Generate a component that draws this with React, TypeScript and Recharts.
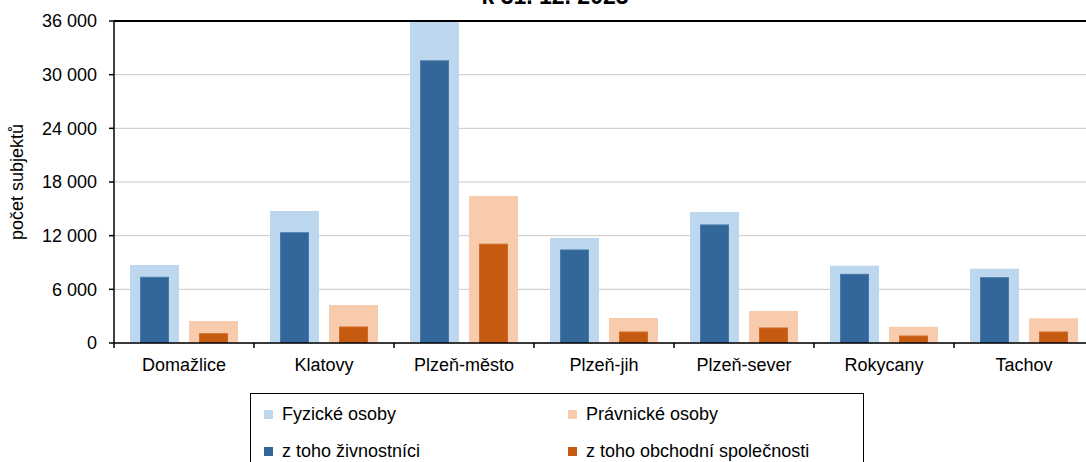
import React from 'react'
import { BarChart, Bar, XAxis, YAxis, CartesianGrid, ReferenceLine, Label } from 'recharts'

const districts = ['Domažlice', 'Klatovy', 'Plzeň-město', 'Plzeň-jih', 'Plzeň-sever', 'Rokycany', 'Tachov']
const fyzickeOsoby = [8720, 14750, 36000, 11750, 14650, 8650, 8310]
const zivnostnici = [7350, 12330, 31550, 10400, 13200, 7680, 7300]
const pravnickeOsoby = [2460, 4250, 16430, 2800, 3580, 1820, 2760]
const obchodniSpolecnosti = [1040, 1790, 11050, 1230, 1680, 780, 1230]
const yTicks = [0, 6000, 12000, 18000, 24000, 30000, 36000]

const series = [
  { key: 'fyz', name: 'Fyzické osoby', color: '#BDD7EE' },
  { key: 'zivn', name: 'z toho živnostníci', color: '#336699' },
  { key: 'prav', name: 'Právnické osoby', color: '#F8CBAD' },
  { key: 'obch', name: 'z toho obchodní společnosti', color: '#C55A11' },
]

const data = districts.map((d, i) => ({
  name: d,
  fyz: fyzickeOsoby[i],
  zivn: zivnostnici[i],
  prav: pravnickeOsoby[i],
  obch: obchodniSpolecnosti[i],
}))

const FONT = 'Arial, "Liberation Sans", sans-serif'
const CHART_W = 1110
const CHART_H = 380
const Y_AXIS_W = 114
const MARGIN_RIGHT = 16
const PLOT_W = CHART_W - Y_AXIS_W - MARGIN_RIGHT
const BAND = PLOT_W / districts.length
const NARROW = 28

const fmt = (v: number) => String(v).replace(/\B(?=(\d{3})+(?!\d))/g, ' ')

// uzší sloupec vycentrovaný do širokého
const narrowShape = (props: any) => {
  const { x, y, width, height, fill, stroke } = props
  if (!height || height <= 0) return <g />
  return (
    <rect
      x={x + (width - NARROW) / 2}
      y={y}
      width={NARROW}
      height={height}
      fill={fill}
      stroke={stroke}
      strokeWidth={1}
    />
  )
}

const CategoryTick = (props: any) => {
  const { x, y, payload, index } = props
  const last = index === districts.length - 1
  return (
    <g>
      <line x1={x - BAND / 2} x2={x - BAND / 2} y1={y} y2={y + 5} stroke="#000" strokeWidth={1.5} />
      {last && <line x1={x + BAND / 2} x2={x + BAND / 2} y1={y} y2={y + 5} stroke="#000" strokeWidth={1.5} />}
      <text x={x} y={y + 28} textAnchor="middle" fontSize={18} fill="#000" fontFamily={FONT}>
        {payload.value}
      </text>
    </g>
  )
}

export default function App() {
  return (
    <div
      style={{
        position: 'fixed',
        left: 0,
        top: 0,
        width: 1086,
        height: 462,
        overflow: 'hidden',
        background: '#fff',
        fontFamily: FONT,
      }}
    >
      <div
        style={{
          position: 'absolute',
          left: 0,
          top: -15,
          width: CHART_W,
          textAlign: 'center',
          fontSize: 23,
          lineHeight: '23px',
          fontWeight: 'bold',
          color: '#000',
        }}
      >
        k 31. 12. 2023
      </div>
      <div style={{ position: 'absolute', left: 0, top: 0 }}>
        <BarChart
          width={CHART_W}
          height={CHART_H}
          data={data}
          margin={{ top: 21, right: MARGIN_RIGHT, bottom: 0, left: 0 }}
          barGap={10}
        >
          <CartesianGrid vertical={false} stroke="#c8c8c8" strokeWidth={1} />
          <XAxis
            xAxisId="a"
            dataKey="name"
            height={37}
            interval={0}
            tickSize={0}
            tickMargin={0}
            tickLine={false}
            axisLine={{ stroke: '#000', strokeWidth: 1.5 }}
            tick={<CategoryTick />}
          />
          <XAxis xAxisId="b" dataKey="name" hide />
          <YAxis
            width={Y_AXIS_W}
            domain={[0, 36000]}
            ticks={yTicks}
            interval={0}
            allowDataOverflow
            tickFormatter={fmt}
            tickSize={5}
            tickMargin={12}
            tick={{ fill: '#000', fontSize: 18, fontFamily: FONT }}
            tickLine={{ stroke: '#000', strokeWidth: 1.5 }}
            axisLine={{ stroke: '#000', strokeWidth: 1.5 }}
          >
            <Label
              content={(p: any) => {
                const vb = p.viewBox
                const cx = 17
                const cy = vb.y + vb.height / 2
                return (
                  <text
                    x={cx}
                    y={cy}
                    transform={`rotate(-90 ${cx} ${cy})`}
                    textAnchor="middle"
                    dominantBaseline="central"
                    fontSize={18}
                    fill="#000"
                    fontFamily={FONT}
                  >
                    počet subjektů
                  </text>
                )
              }}
            />
          </YAxis>
          <ReferenceLine xAxisId="a" y={36000} stroke="#000" strokeWidth={2} />
          <Bar xAxisId="a" dataKey="fyz" name={series[0].name} fill={series[0].color} barSize={49} isAnimationActive={false} />
          <Bar xAxisId="a" dataKey="prav" name={series[2].name} fill={series[2].color} barSize={49} isAnimationActive={false} />
          <Bar
            xAxisId="b"
            dataKey="zivn"
            name={series[1].name}
            fill={series[1].color}
            stroke="#4a7aaa"
            barSize={49}
            shape={narrowShape}
            isAnimationActive={false}
          />
          <Bar
            xAxisId="b"
            dataKey="obch"
            name={series[3].name}
            fill={series[3].color}
            stroke="#d06a28"
            barSize={49}
            shape={narrowShape}
            isAnimationActive={false}
          />
        </BarChart>
      </div>
      <div
        style={{
          position: 'absolute',
          left: 250,
          top: 393,
          width: 612,
          height: 100,
          border: '1.5px solid #000',
          fontSize: 18,
          color: '#000',
        }}
      >
        {[series[0], series[2], series[1], series[3]].map((s, i) => (
          <div
            key={s.key}
            style={{
              position: 'absolute',
              left: i % 2 === 0 ? 13 : 317,
              top: i < 2 ? 9 : 46,
              display: 'flex',
              alignItems: 'center',
              whiteSpace: 'nowrap',
              lineHeight: '22px',
            }}
          >
            <span style={{ width: 9, height: 9, background: s.color, marginRight: 9, display: 'inline-block' }} />
            {s.name}
          </div>
        ))}
      </div>
    </div>
  )
}
